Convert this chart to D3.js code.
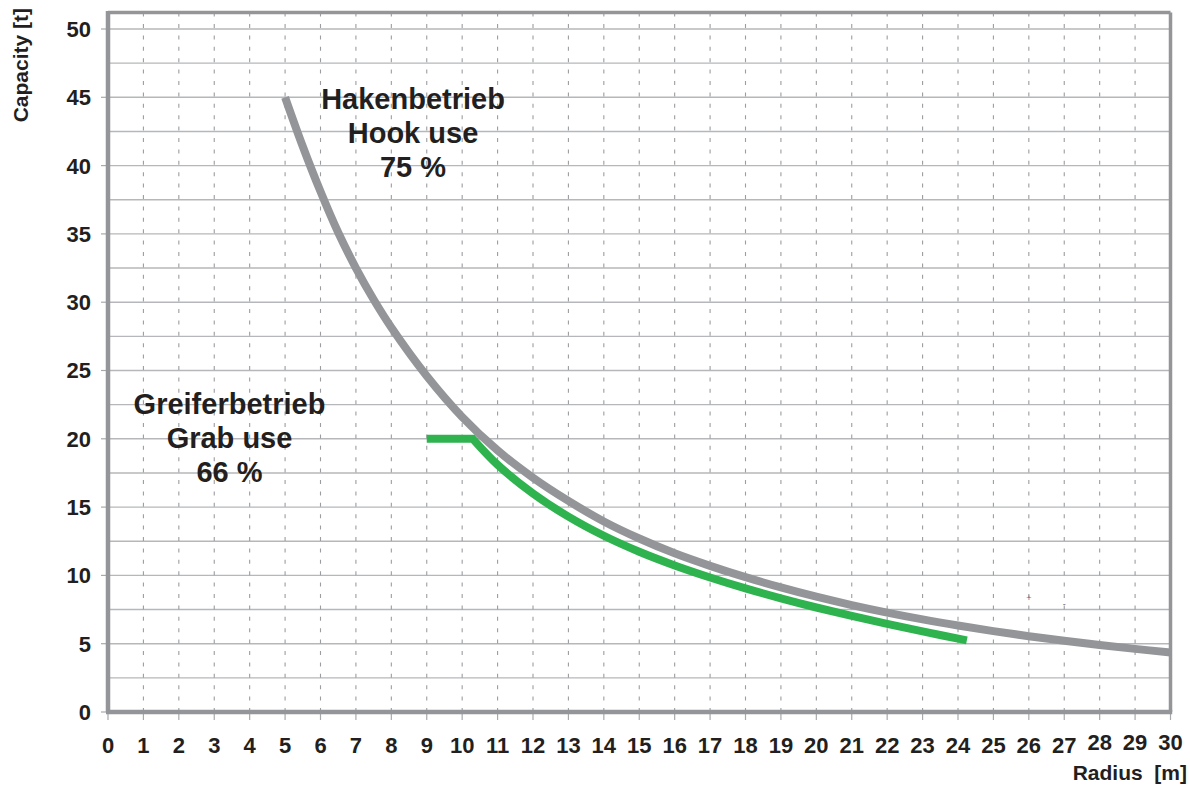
<!DOCTYPE html>
<html>
<head>
<meta charset="utf-8">
<script src="https://cdn.jsdelivr.net/npm/d3@7"></script>
<style>
  html, body { margin: 0; padding: 0; background: #fff; }
  svg { display: block; font-family: "Liberation Sans", Arial, sans-serif; }
</style>
</head>
<body>
<svg id="chart"></svg>
<script>
// hook use 75 % (grey)
const hookRadius   = [5, 5.5, 6, 6.5, 7, 7.5, 8, 9, 10, 11, 12, 13, 14, 15, 16, 17, 18, 19, 20, 21, 22, 23, 24, 25, 26, 27, 28, 29, 30];
const hookCapacity = [45, 41.4, 38.1, 35.1, 32.5, 30.2, 28.15, 24.6, 21.6, 19.15, 17.15, 15.45, 13.95, 12.7, 11.62, 10.7, 9.87, 9.12, 8.44, 7.83, 7.28, 6.78, 6.33, 5.92, 5.55, 5.21, 4.9, 4.62, 4.36];

// grab use 66 % (green)
const grabRadius   = [9, 10.3, 11, 12, 13, 14, 15, 16, 17, 18, 19, 20, 21, 22, 23, 24.25];
const grabCapacity = [20, 20, 18.1, 16.0, 14.3, 12.9, 11.73, 10.73, 9.85, 9.05, 8.32, 7.65, 7.03, 6.45, 5.9, 5.24];

const xTicks = d3.range(0, 31);
const yTicks = d3.range(0, 51, 5);
const yGrid = d3.range(2.5, 50.1, 2.5);

const hookLabel = ["Hakenbetrieb", "Hook use", "75 %"];
const grabLabel = ["Greiferbetrieb", "Grab use", "66 %"];

const width = 1190, height = 785;
const TOP_VALUE = 51.2;
const GREY = "#939598";
const GREEN = "#2fb34f";
const INK = "#231f20";

const svg = d3.select("#chart").attr("width", width).attr("height", height);

const x = d3.scaleLinear().domain([0, 30]).range([108, 1170.5]);
const y = d3.scaleLinear().domain([0, 50]).range([712, 29]);

// horizontal grid
svg.append("g").selectAll("line")
    .data(yGrid)
    .enter().append("line")
    .attr("x1", x(0)).attr("x2", x(30))
    .attr("y1", d => y(d)).attr("y2", d => y(d))
    .style("stroke", "#b5b7ba")
    .style("stroke-width", 1.4);

// vertical dashed grid
svg.append("g").selectAll("line")
    .data(xTicks.slice(1, -1))
    .enter().append("line")
    .attr("x1", d => x(d)).attr("x2", d => x(d))
    .attr("y1", y(0)).attr("y2", y(TOP_VALUE))
    .style("stroke", "#9b9da0")
    .style("stroke-width", 1.1)
    .style("stroke-dasharray", "4,7.4");

// tick marks
svg.append("g").selectAll("line")
    .data(yTicks)
    .enter().append("line")
    .attr("x1", x(0) - 7).attr("x2", x(0))
    .attr("y1", d => y(d)).attr("y2", d => y(d))
    .style("stroke", "#a7a9ac")
    .style("stroke-width", 1.2);

svg.append("g").selectAll("line")
    .data(xTicks)
    .enter().append("line")
    .attr("x1", d => x(d)).attr("x2", d => x(d))
    .attr("y1", y(0)).attr("y2", y(0) + 8)
    .style("stroke", "#a7a9ac")
    .style("stroke-width", 1.2);

// curves
const curveLine = d3.line()
    .x(d => x(d[0]))
    .y(d => y(d[1]))
    .curve(d3.curveCatmullRom.alpha(0.5));

const hookPoints = hookRadius.map((r, i) => [r, hookCapacity[i]]);
svg.append("path")
    .attr("d", curveLine(hookPoints))
    .style("fill", "none")
    .style("stroke", GREY)
    .style("stroke-width", 8);

// flat part is straight, the rest follows the curve
const grabPoints = grabRadius.map((r, i) => [r, grabCapacity[i]]);
const flatPart = `M${x(grabPoints[0][0])},${y(grabPoints[0][1])}`;
const bentPart = curveLine(grabPoints.slice(1)).replace(/^M/, "L");
svg.append("path")
    .attr("d", flatPart + bentPart)
    .style("fill", "none")
    .style("stroke", GREEN)
    .style("stroke-width", 8)
    .style("stroke-linejoin", "miter");

// frame
svg.append("path")
    .attr("d", `M${x(0)},${y(TOP_VALUE)}H${x(30)}`)
    .style("stroke", GREY).style("stroke-width", 3.5);
svg.append("path")
    .attr("d", `M${x(30)},${y(TOP_VALUE)}V${y(0)}`)
    .style("stroke", GREY).style("stroke-width", 3.5);
svg.append("path")
    .attr("d", `M${x(0)},${y(TOP_VALUE) - 1.5}V${y(0)}`)
    .style("stroke", GREY).style("stroke-width", 4.5);
svg.append("path")
    .attr("d", `M${x(0) - 2}, ${y(0)}H${x(30) + 1.7}`)
    .style("stroke", GREY).style("stroke-width", 4.5);

// tick labels
svg.append("g").selectAll("text")
    .data(yTicks)
    .enter().append("text")
    .attr("x", 91)
    .attr("y", d => y(d))
    .attr("dy", "0.36em")
    .attr("text-anchor", "end")
    .style("font-size", "22px")
    .style("font-weight", "bold")
    .style("fill", INK)
    .text(d => d);

svg.append("g").selectAll("text")
    .data(xTicks)
    .enter().append("text")
    .attr("x", d => x(d))
    .attr("y", d => d >= 28 ? 750 : 753)
    .attr("text-anchor", "middle")
    .style("font-size", "22px")
    .style("font-weight", "bold")
    .style("fill", INK)
    .text(d => d);

// axis titles
svg.append("text")
    .attr("x", 1187)
    .attr("y", 780)
    .attr("text-anchor", "end")
    .style("font-size", "21px")
    .style("font-weight", "bold")
    .style("fill", INK)
    .style("white-space", "pre")
    .text("Radius  [m]");

svg.append("text")
    .attr("transform", "translate(28,8) rotate(-90)")
    .attr("text-anchor", "end")
    .style("font-size", "21px")
    .style("font-weight", "bold")
    .style("fill", INK)
    .text("Capacity [t]");

// annotations
function addLabel(lines, cx, firstBaseline) {
    svg.append("g").selectAll("text")
        .data(lines)
        .enter().append("text")
        .attr("x", cx)
        .attr("y", (d, i) => firstBaseline + i * 34.2)
        .attr("text-anchor", "middle")
        .style("font-size", "29px")
        .style("font-weight", "bold")
        .style("fill", INK)
        .text(d => d);
}

addLabel(hookLabel, 413, 108.5);
addLabel(grabLabel, 229.5, 413.5);

// small stray marks near 26 / 27 m
svg.append("text")
    .attr("x", x(26)).attr("y", y(8.35)).attr("dy", "0.35em")
    .attr("text-anchor", "middle")
    .style("font-size", "9px").style("fill", "#6e6a86")
    .text("+");
svg.append("text")
    .attr("x", x(27)).attr("y", y(7.95)).attr("dy", "0.35em")
    .attr("text-anchor", "middle")
    .style("font-size", "9px").style("fill", "#6e6a86")
    .text("-");
</script>
</body>
</html>
